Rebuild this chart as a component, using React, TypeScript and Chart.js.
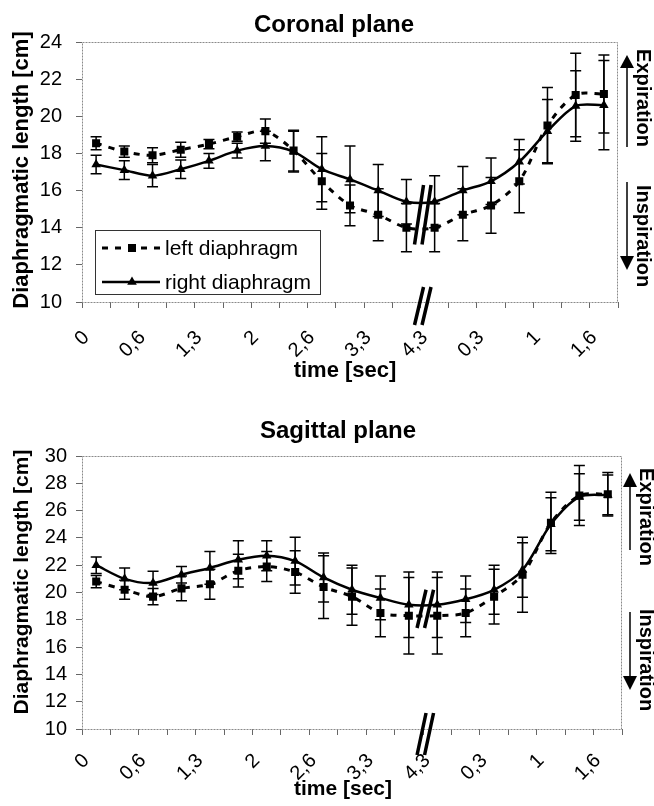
import React, { useEffect, useRef } from 'react';
import { Chart, registerables } from 'chart.js';

Chart.register(...registerables);

const FONT = '"Liberation Sans", Arial, Helvetica, sans-serif';

// x categories (19 time points, every other one labelled)
const timeLabels = ['0', '', '0,6', '', '1,3', '', '2', '', '2,6', '', '3,3', '', '4,3', '', '0,3', '', '1', '', '1,6'];

// Coronal plane
const coronalLeft = [18.55, 18.1, 17.9, 18.2, 18.5, 18.9, 19.2, 18.15, 16.5, 15.2, 14.7, 14.0, 14.0, 14.7, 15.2, 16.5, 19.5, 21.15, 21.2];
const coronalLeftErr = [0.35, 0.3, 0.4, 0.4, 0.25, 0.25, 0.65, 1.1, 1.5, 1.1, 1.4, 1.3, 1.3, 1.4, 1.5, 1.7, 2.05, 2.25, 2.1];
const coronalRight = [17.4, 17.1, 16.8, 17.15, 17.6, 18.15, 18.4, 18.1, 17.15, 16.6, 16.0, 15.4, 15.4, 16.0, 16.5, 17.55, 19.2, 20.55, 20.6];
const coronalRightErr = [0.5, 0.5, 0.6, 0.5, 0.4, 0.4, 0.8, 1.1, 1.75, 1.8, 1.4, 1.2, 1.4, 1.3, 1.25, 1.2, 1.7, 1.9, 2.4];
const coronalTicks = { min: 10, max: 24, step: 2 };

// Sagittal plane
const sagittalLeft = [20.8, 20.2, 19.7, 20.3, 20.6, 21.6, 21.9, 21.5, 20.4, 19.7, 18.5, 18.3, 18.3, 18.5, 19.7, 21.3, 25.1, 27.1, 27.2];
const sagittalLeftErr = [0.45, 0.7, 0.6, 0.9, 1.1, 1.2, 1.1, 1.55, 2.3, 2.1, 1.75, 2.8, 2.8, 1.75, 2.0, 2.75, 2.25, 2.2, 1.6];
const sagittalRight = [22.0, 21.0, 20.7, 21.3, 21.8, 22.4, 22.7, 22.3, 21.1, 20.2, 19.6, 19.1, 19.1, 19.5, 20.2, 21.65, 25.0, 27.0, 27.15];
const sagittalRightErr = [0.6, 0.8, 0.85, 0.6, 1.2, 1.4, 1.1, 1.75, 1.8, 1.8, 1.6, 2.4, 2.4, 1.7, 1.8, 2.0, 1.95, 1.7, 1.45];
const sagittalTicks = { min: 10, max: 30, step: 2 };

const seriesNames = ['left diaphragm', 'right diaphragm'];

type Cfg = {
  width: number;
  height: number;
  title: string;
  titleX: number;
  titleBase: number;
  padTop: number;
  padRight: number;
  xHeight: number;
  xTickPad: number;
  yTickPad: number;
  yTitleSize: number;
  yTitleX: number;
  yTitleCY: number;
  xTitleSize: number;
  xTitleX: number;
  xTitleBase: number;
  left: number[];
  leftErr: number[];
  right: number[];
  rightErr: number[];
  ticks: { min: number; max: number; step: number };
  breakLo: number;
  breakHi: number;
  axisBreakUp: number;
  axisBreakDown: number;
  legend: boolean;
  arrowDx: number;
  textDx: number;
  upTip: number;
  upBase: number;
  upEnd: number;
  downStart: number;
  downBase: number;
  downTip: number;
  expCY: number;
  inspCY: number;
};

function makeDecor(cfg: Cfg) {
  return {
    id: 'decor',
    beforeDatasetsDraw(chart: any) {
      const ctx = chart.ctx;
      const { left, right, top, bottom } = chart.chartArea;
      const x = chart.scales.x;
      const y = chart.scales.y;
      ctx.save();
      // plot border
      ctx.strokeStyle = '#8a8a8a';
      ctx.lineWidth = 1;
      ctx.setLineDash([2, 1]);
      ctx.strokeRect(left + 0.5, top + 0.5, right - left - 1, bottom - top);
      ctx.setLineDash([]);
      // error bars
      ctx.strokeStyle = '#000';
      ctx.lineWidth = 1.5;
      const cap = 5.5;
      const drawErr = (vals: number[], errs: number[]) => {
        vals.forEach((v, i) => {
          const px = x.getPixelForValue(i);
          const t = y.getPixelForValue(v + errs[i]);
          const b = y.getPixelForValue(v - errs[i]);
          ctx.beginPath();
          ctx.moveTo(px, t);
          ctx.lineTo(px, b);
          ctx.moveTo(px - cap, t);
          ctx.lineTo(px + cap, t);
          ctx.moveTo(px - cap, b);
          ctx.lineTo(px + cap, b);
          ctx.stroke();
        });
      };
      drawErr(cfg.left, cfg.leftErr);
      drawErr(cfg.right, cfg.rightErr);
      ctx.restore();
    },
    afterDatasetsDraw(chart: any) {
      const ctx = chart.ctx;
      const { bottom, right } = chart.chartArea;
      const x = chart.scales.x;
      const y = chart.scales.y;
      ctx.save();
      // break marks
      const bx = x.getPixelForValue(11.5);
      ctx.strokeStyle = '#000';
      ctx.lineWidth = 3.5;
      const pair = (yb: number, yt: number) => {
        ctx.beginPath();
        ctx.moveTo(bx - 6, yb);
        ctx.lineTo(bx + 3, yt);
        ctx.moveTo(bx + 1.5, yb);
        ctx.lineTo(bx + 10.5, yt);
        ctx.stroke();
      };
      pair(y.getPixelForValue(cfg.breakLo), y.getPixelForValue(cfg.breakHi));
      pair(bottom + cfg.axisBreakDown, bottom - cfg.axisBreakUp);

      // legend
      if (cfg.legend) {
        const lx = 95, ly = 230, lw = 225, lh = 64;
        ctx.fillStyle = '#fff';
        ctx.fillRect(lx, ly, lw, lh);
        ctx.strokeStyle = '#333';
        ctx.lineWidth = 1;
        ctx.strokeRect(lx + 0.5, ly + 0.5, lw, lh);
        const rows = [ly + 18, ly + 52];
        // row 1 dashed + square
        ctx.strokeStyle = '#000';
        ctx.lineWidth = 3;
        ctx.setLineDash([6, 7]);
        ctx.beginPath();
        ctx.moveTo(lx + 7, rows[0]);
        ctx.lineTo(lx + 65, rows[0]);
        ctx.stroke();
        ctx.setLineDash([]);
        ctx.fillStyle = '#000';
        ctx.fillRect(lx + 37 - 4, rows[0] - 4, 8, 8);
        // row 2 solid + triangle
        ctx.lineWidth = 2.5;
        ctx.beginPath();
        ctx.moveTo(lx + 7, rows[1]);
        ctx.lineTo(lx + 65, rows[1]);
        ctx.stroke();
        ctx.beginPath();
        ctx.moveTo(lx + 37, rows[1] - 5.5);
        ctx.lineTo(lx + 37 + 4.8, rows[1] + 2.8);
        ctx.lineTo(lx + 37 - 4.8, rows[1] + 2.8);
        ctx.closePath();
        ctx.fill();
        ctx.font = `21px ${FONT}`;
        ctx.textAlign = 'left';
        ctx.textBaseline = 'middle';
        ctx.fillText(seriesNames[0], lx + 70, rows[0] + 1);
        ctx.fillText(seriesNames[1], lx + 70, rows[1] + 1);
      }

      // arrows
      const ax = right + cfg.arrowDx;
      ctx.strokeStyle = '#000';
      ctx.fillStyle = '#000';
      ctx.lineWidth = 1.5;
      ctx.beginPath();
      ctx.moveTo(ax, cfg.upBase);
      ctx.lineTo(ax, cfg.upEnd);
      ctx.moveTo(ax, cfg.downStart);
      ctx.lineTo(ax, cfg.downBase);
      ctx.stroke();
      ctx.beginPath();
      ctx.moveTo(ax, cfg.upTip);
      ctx.lineTo(ax + 7, cfg.upBase);
      ctx.lineTo(ax - 7, cfg.upBase);
      ctx.closePath();
      ctx.fill();
      ctx.beginPath();
      ctx.moveTo(ax, cfg.downTip);
      ctx.lineTo(ax + 7, cfg.downBase);
      ctx.lineTo(ax - 7, cfg.downBase);
      ctx.closePath();
      ctx.fill();

      // side texts
      const tx = right + cfg.textDx;
      ctx.font = `bold 20px ${FONT}`;
      ctx.textAlign = 'center';
      ctx.textBaseline = 'middle';
      ctx.save();
      ctx.translate(tx, cfg.expCY);
      ctx.rotate(Math.PI / 2);
      ctx.fillText('Expiration', 0, 0);
      ctx.restore();
      ctx.save();
      ctx.translate(tx, cfg.inspCY);
      ctx.rotate(Math.PI / 2);
      ctx.fillText('Inspiration', 0, 0);
      ctx.restore();

      // titles
      ctx.textBaseline = 'alphabetic';
      ctx.font = `bold 24px ${FONT}`;
      ctx.fillText(cfg.title, cfg.titleX, cfg.titleBase);
      ctx.font = `bold ${cfg.xTitleSize}px ${FONT}`;
      ctx.fillText('time [sec]', cfg.xTitleX, cfg.xTitleBase);
      ctx.save();
      ctx.translate(cfg.yTitleX, cfg.yTitleCY);
      ctx.rotate(-Math.PI / 2);
      ctx.font = `bold ${cfg.yTitleSize}px ${FONT}`;
      ctx.fillText('Diaphragmatic length [cm]', 0, 0);
      ctx.restore();
      ctx.restore();
    },
  };
}

function PlaneChart({ cfg }: { cfg: Cfg }) {
  const ref = useRef<HTMLCanvasElement | null>(null);
  useEffect(() => {
    if (!ref.current) return;
    const chart = new Chart(ref.current, {
      type: 'line',
      data: {
        labels: timeLabels,
        datasets: [
          {
            label: seriesNames[0],
            data: cfg.left,
            borderColor: '#000',
            backgroundColor: '#000',
            borderWidth: 3,
            borderDash: [6, 7],
            pointStyle: 'rect',
            pointRadius: 5.7,
            pointBorderWidth: 0,
            pointBackgroundColor: '#000',
            tension: 0.3,
            fill: false,
          },
          {
            label: seriesNames[1],
            data: cfg.right,
            borderColor: '#000',
            backgroundColor: '#000',
            borderWidth: 2.5,
            pointStyle: 'triangle',
            pointRadius: 5.5,
            pointBorderWidth: 0,
            pointBackgroundColor: '#000',
            tension: 0.3,
            fill: false,
          },
        ],
      },
      options: {
        responsive: false,
        animation: false,
        events: [],
        layout: { padding: { top: cfg.padTop, right: cfg.padRight, left: 0, bottom: 0 } },
        plugins: {
          legend: { display: false },
          tooltip: { enabled: false },
          title: { display: false },
        },
        scales: {
          x: {
            type: 'category',
            offset: true,
            grid: { offset: true, drawOnChartArea: false, drawTicks: true, tickLength: 6, color: '#666', lineWidth: 1 },
            border: { display: false },
            ticks: {
              autoSkip: false,
              maxRotation: 45,
              minRotation: 45,
              padding: cfg.xTickPad,
              labelOffset: -10,
              color: '#000',
              font: { family: FONT, size: 20 },
            },
            afterFit: (s: any) => {
              s.height = cfg.xHeight;
              s.paddingLeft = 0;
              s.paddingRight = 0;
            },
          },
          y: {
            type: 'linear',
            min: cfg.ticks.min,
            max: cfg.ticks.max,
            grid: { drawOnChartArea: false, drawTicks: true, tickLength: 6, color: '#666', lineWidth: 1 },
            border: { display: false },
            ticks: {
              stepSize: cfg.ticks.step,
              padding: cfg.yTickPad,
              color: '#000',
              font: { family: FONT, size: 20 },
            },
            afterFit: (s: any) => {
              s.width = 82;
              s.paddingTop = 0;
              s.paddingBottom = 0;
            },
          },
        },
      },
      plugins: [makeDecor(cfg)],
    } as any);
    return () => chart.destroy();
  }, [cfg]);
  return <canvas ref={ref} width={cfg.width} height={cfg.height} style={{ display: 'block' }} />;
}

const coronalCfg: Cfg = {
  width: 654,
  height: 400,
  title: 'Coronal plane',
  titleX: 334,
  titleBase: 32,
  padTop: 42,
  padRight: 36,
  xHeight: 98,
  xTickPad: 18,
  yTickPad: 14,
  yTitleSize: 22,
  yTitleX: 28,
  yTitleCY: 170,
  xTitleSize: 22,
  xTitleX: 345,
  xTitleBase: 377,
  left: coronalLeft,
  leftErr: coronalLeftErr,
  right: coronalRight,
  rightErr: coronalRightErr,
  ticks: coronalTicks,
  breakLo: 13.1,
  breakHi: 16.3,
  axisBreakUp: 15,
  axisBreakDown: 23,
  legend: true,
  arrowDx: 9,
  textDx: 25,
  upTip: 55,
  upBase: 68,
  upEnd: 147,
  downStart: 182,
  downBase: 256,
  downTip: 270,
  expCY: 98,
  inspCY: 236,
};

const sagittalCfg: Cfg = {
  width: 654,
  height: 406,
  title: 'Sagittal plane',
  titleX: 338,
  titleBase: 38,
  padTop: 56,
  padRight: 32,
  xHeight: 77,
  xTickPad: 14,
  yTickPad: 9,
  yTitleSize: 21,
  yTitleX: 28,
  yTitleCY: 182,
  xTitleSize: 21,
  xTitleX: 343,
  xTitleBase: 395,
  left: sagittalLeft,
  leftErr: sagittalLeftErr,
  right: sagittalRight,
  rightErr: sagittalRightErr,
  ticks: sagittalTicks,
  breakLo: 17.4,
  breakHi: 20.2,
  axisBreakUp: 16,
  axisBreakDown: 26,
  legend: false,
  arrowDx: 8,
  textDx: 24,
  upTip: 73,
  upBase: 87,
  upEnd: 150,
  downStart: 212,
  downBase: 276,
  downTip: 290,
  expCY: 117,
  inspCY: 260,
};

export default function App() {
  return (
    <div style={{ position: 'fixed', left: 0, top: 0, width: 654, height: 806, background: '#fff' }}>
      <PlaneChart cfg={coronalCfg} />
      <PlaneChart cfg={sagittalCfg} />
    </div>
  );
}
